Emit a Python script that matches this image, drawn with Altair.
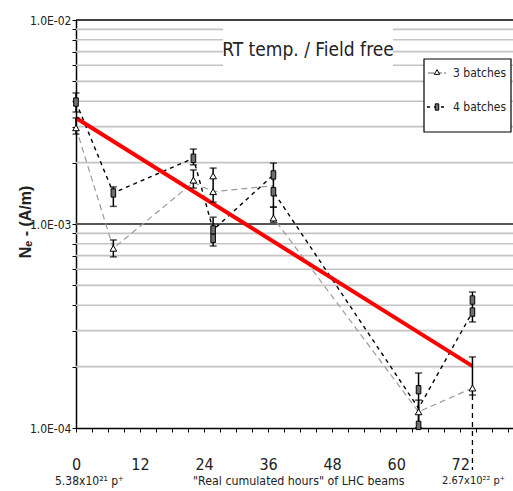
import altair as alt
import pandas as pd

# ---------------- data ----------------
# connecting paths (hours, Ne values)
path3_h = [0, 7, 22, 25.7, 37, 37, 64.2, 74.3]
path3_v = [2.96e-3, 7.6e-4, 1.6e-3, 1.44e-3, 1.54e-3, 1.07e-3, 1.2e-4, 1.57e-4]
path4_h = [0, 7, 22, 25.7, 37, 37, 64.2, 74.3]
path4_v = [3.96e-3, 1.42e-3, 2.1e-3, 9.35e-4, 1.74e-3, 1.44e-3, 1.25e-4, 3.7e-4]

# markers
tri_h = [0, 7, 22, 25.7, 25.7, 37, 64.2, 74.3]
tri_v = [2.96e-3, 7.6e-4, 1.64e-3, 1.72e-3, 1.44e-3, 1.07e-3, 1.2e-4, 1.57e-4]
rect_h = [0, 7, 22, 25.7, 25.7, 37, 37, 64.2, 64.2, 74.3, 74.3]
rect_v = [3.96e-3, 1.42e-3, 2.1e-3, 9.35e-4, 8.5e-4, 1.74e-3, 1.44e-3,
          1.54e-4, 1.03e-4, 4.24e-4, 3.7e-4]

# error bars
err_h = [0, 7, 22, 25.7, 37, 64.2, 74.3]
err3_lo = [2.76e-3, 6.9e-4, 1.5e-3, 1.28e-3, 1.02e-3, 1.0e-4, 1.45e-4]
err3_hi = [3.31e-3, 8.35e-4, 1.84e-3, 1.88e-3, 1.21e-3, 1.37e-4, 2.23e-4]
err4_lo = [3.54e-3, 1.22e-3, 1.95e-3, 7.8e-4, 1.21e-3, 1.0e-4, 3.31e-4]
err4_hi = [4.39e-3, 1.52e-3, 2.33e-3, 1.08e-3, 1.99e-3, 1.86e-4, 4.64e-4]

# red exponential fit
fit_h = [0, 74.3]
fit_v = [3.31e-3, 2.01e-4]

# drop line at the last point
drop_h = [74.3]
drop_v = [1.45e-4]

# gridlines
minor_grid = [2e-4, 3e-4, 4e-4, 5e-4, 6e-4, 7e-4, 8e-4, 9e-4,
              2e-3, 3e-3, 4e-3, 5e-3, 6e-3, 7e-3, 8e-3, 9e-3]
major_grid = [1e-3]
top_grid = [1e-2]

y_ticks = [1e-4, 2e-4, 3e-4, 4e-4, 5e-4, 6e-4, 7e-4, 8e-4, 9e-4,
           1e-3, 2e-3, 3e-3, 4e-3, 5e-3, 6e-3, 7e-3, 8e-3, 9e-3, 1e-2]
x_ticks = list(range(0, 82, 3))

FONT = "DejaVu Sans Condensed, Liberation Sans Narrow, Roboto, Liberation Sans"
W, H = 437, 408

xs = alt.Scale(domain=[0, 81.9], nice=False, zero=False)
ys = alt.Scale(type="log", domain=[1e-4, 1e-2], nice=False)

x_axis = alt.Axis(
    values=x_ticks,
    labelExpr="datum.value % 12 == 0 ? datum.value : ''",
    title=None, grid=False, domainColor="#000", domainWidth=1.5,
    tickColor="#000", tickSize=4, tickWidth=1,
    labelFont=FONT, labelFontSize=16, labelColor="#222", labelPadding=24,
    labelFlush=False,
)
y_axis = alt.Axis(
    values=y_ticks,
    labelExpr="datum.value > 0.0099 ? '1.0E-02' : (datum.value > 0.00099 && datum.value < 0.00101) ? '1.0E-03' : datum.value < 0.000101 ? '1.0E-04' : ''",
    title=None, grid=False, domainColor="#000", domainWidth=1.5,
    tickColor="#000", tickSize=4, tickWidth=1,
    labelFont=FONT, labelFontSize=12, labelColor="#222", labelPadding=1,
    labelOverlap=False,
)

def xq():
    return alt.X("h:Q", scale=xs, axis=x_axis, title=None)

def yq(field="v"):
    return alt.Y(f"{field}:Q", scale=ys, axis=y_axis, title=None)

def one():
    return pd.DataFrame({"a": [0]})

def label(text, x, y, size, align="left", weight="normal", angle=0, font=FONT, color="#222"):
    kw = dict(font=font, fontSize=size, color=color, align=align,
              baseline="middle", fontWeight=weight, text=text)
    if angle:
        kw["angle"] = angle
    return alt.Chart(one()).mark_text(**kw).encode(x=alt.value(x), y=alt.value(y))

# ---------------- layers ----------------
grid_minor = alt.Chart(pd.DataFrame({"v": minor_grid})).mark_rule(
    color="#c4c4c4", strokeWidth=1.6
).encode(x=alt.value(0), x2=alt.value(W), y=yq())

grid_major = alt.Chart(pd.DataFrame({"v": major_grid})).mark_rule(
    color="#555555", strokeWidth=2
).encode(x=alt.value(0), x2=alt.value(W), y=yq())

grid_top = alt.Chart(pd.DataFrame({"v": top_grid})).mark_rule(
    color="#000000", strokeWidth=1.5
).encode(x=alt.value(0), x2=alt.value(W), y=yq())

title_box = alt.Chart(one()).mark_rect(color="white").encode(
    x=alt.value(147), x2=alt.value(317), y=alt.value(2), y2=alt.value(52)
)
title_txt = label("RT temp. / Field free", 232, 30, 19, align="center")

df3 = pd.DataFrame({"h": path3_h, "v": path3_v, "o": list(range(len(path3_h)))})
df4 = pd.DataFrame({"h": path4_h, "v": path4_v, "o": list(range(len(path4_h)))})

line3 = alt.Chart(df3).mark_line(
    color="#9a9a9a", strokeWidth=1.2, strokeDash=[6, 4]
).encode(x=xq(), y=yq(), order="o:Q")

line4 = alt.Chart(df4).mark_line(
    color="#000000", strokeWidth=1.4, strokeDash=[4, 4]
).encode(x=xq(), y=yq(), order="o:Q")

fit = alt.Chart(pd.DataFrame({"h": fit_h, "v": fit_v})).mark_line(
    color="#ff0000", strokeWidth=4
).encode(x=xq(), y=yq())

drop = alt.Chart(pd.DataFrame({"h": drop_h, "v": drop_v})).mark_rule(
    color="#000", strokeWidth=1.3, strokeDash=[5, 4]
).encode(x=xq(), y=yq(), y2=alt.value(H + 42))

err_df = pd.DataFrame({
    "h": err_h + err_h,
    "lo": err3_lo + err4_lo,
    "hi": err3_hi + err4_hi,
})
err_rule = alt.Chart(err_df).mark_rule(color="#000", strokeWidth=1.5).encode(
    x=xq(), y=yq("lo"), y2="hi:Q"
)
cap_lo = alt.Chart(err_df).mark_tick(
    color="#000", orient="horizontal", size=7, thickness=1.5
).encode(x=xq(), y=yq("lo"))
cap_hi = alt.Chart(err_df).mark_tick(
    color="#000", orient="horizontal", size=7, thickness=1.5
).encode(x=xq(), y=yq("hi"))

rect_shape = "M-0.55,-1 L0.55,-1 L0.55,1 L-0.55,1 Z"
pts4 = alt.Chart(pd.DataFrame({"h": rect_h, "v": rect_v})).mark_point(
    shape=rect_shape, filled=True, fill="#6e6e6e", stroke="#000",
    strokeWidth=1, size=70, opacity=1
).encode(x=xq(), y=yq())

pts3 = alt.Chart(pd.DataFrame({"h": tri_h, "v": tri_v})).mark_point(
    shape="triangle-up", filled=True, fill="#ffffff", stroke="#000",
    strokeWidth=1, size=45, opacity=1
).encode(x=xq(), y=yq())

# ---------------- legend ----------------
leg_box = alt.Chart(one()).mark_rect(
    fill="white", stroke="#000", strokeWidth=1.2
).encode(x=alt.value(348), x2=alt.value(435), y=alt.value(39), y2=alt.value(112))
leg_l3 = alt.Chart(one()).mark_rule(
    color="#666", strokeWidth=1.2, strokeDash=[6, 2]
).encode(x=alt.value(352), x2=alt.value(370), y=alt.value(53))
leg_l4 = alt.Chart(one()).mark_rule(
    color="#000", strokeWidth=1.4, strokeDash=[3, 4]
).encode(x=alt.value(351), x2=alt.value(371), y=alt.value(87))
leg_p3 = alt.Chart(one()).mark_point(
    shape="triangle-up", filled=True, fill="#fff", stroke="#000",
    strokeWidth=1, size=30, opacity=1
).encode(x=alt.value(361), y=alt.value(52))
leg_p4 = alt.Chart(one()).mark_point(
    shape=rect_shape, filled=True, fill="#6e6e6e", stroke="#000",
    strokeWidth=1, size=40, opacity=1
).encode(x=alt.value(361), y=alt.value(87))
leg_t3 = label("3 batches", 377, 53, 12)
leg_t4 = label("4 batches", 377, 87, 12)

# ---------------- axis titles / annotations ----------------
ytitle = label("Nₑ - (A/m)", -50, 202, 16, align="center", weight="bold",
               angle=270, font="Liberation Sans, Arial")
bot1 = label("5.38x10²¹ p⁺", -21, H + 53, 12)
bot2 = label("\"Real cumulated hours\" of LHC beams", 117, H + 53, 12.3)
bot3 = label("2.67x10²² p⁺", 366, H + 53, 11)

chart = alt.layer(
    grid_minor, grid_major, title_box, title_txt, grid_top,
    line3, line4, fit, drop, err_rule, cap_lo, cap_hi, pts4, pts3,
    leg_box, leg_l3, leg_l4, leg_p3, leg_p4, leg_t3, leg_t4,
    ytitle, bot1, bot2, bot3,
).properties(
    width=W, height=H,
    padding={"left": 76, "top": 20, "right": 0, "bottom": 63},
    autosize=alt.AutoSizeParams(type="none"),
    background="white",
).configure_view(stroke=None)

chart.save("out.html", embed_options={"renderer": "svg", "actions": False})
